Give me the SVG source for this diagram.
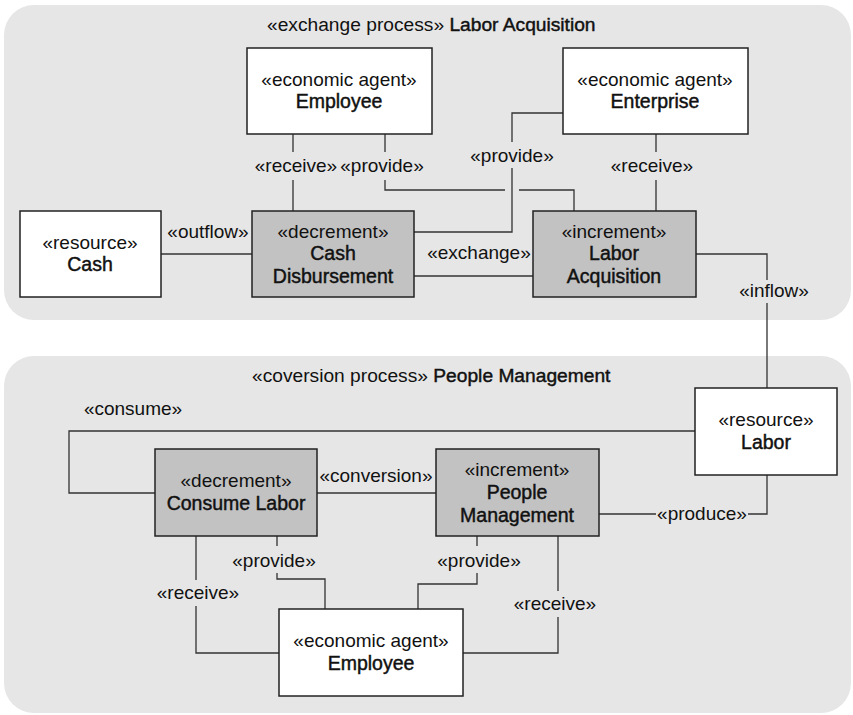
<svg xmlns="http://www.w3.org/2000/svg" width="853" height="715" viewBox="0 0 853 715">
  <style>
    .region { fill: #e6e6e6; stroke: none; }
    .node { stroke: #222; stroke-width: 1.5; }
    .agent, .resource { fill: #ffffff; }
    .event { fill: #c2c2c2; }
    .st { font-family: "Liberation Sans", Arial, sans-serif; font-size: 19px; fill: #111; text-anchor: middle; }
    .nm { font-family: "Liberation Sans", Arial, sans-serif; font-size: 19.5px; fill: #111; stroke: #111; stroke-width: 0.45; text-anchor: middle; }
    .title { font-family: "Liberation Sans", Arial, sans-serif; font-size: 19.2px; fill: #111; }
    .title tspan.b { stroke: #111; stroke-width: 0.45; }
    .lbl { font-family: "Liberation Sans", Arial, sans-serif; font-size: 19px; fill: #111; text-anchor: middle; }
    .wire { fill: none; stroke: #333; stroke-width: 1.3; }
  </style>

  <!-- process regions -->
  <g id="exchange-process">
    <rect class="region" x="4" y="5" width="847" height="315" rx="30" ry="30"/>
    <text class="title" x="267" y="31">«exchange process» <tspan class="b">Labor Acquisition</tspan></text>
  </g>
  <g id="conversion-process">
    <rect class="region" x="4" y="356" width="847" height="357" rx="30" ry="30"/>
    <text class="title" x="252" y="382">«coversion process» <tspan class="b">People Management</tspan></text>
  </g>

  <!-- connectors -->
  <g id="connectors">
    <!-- Employee receive -->
    <path class="wire" d="M293,134 V152 M293,180 V211"/>
    <text class="lbl" x="296" y="172">«receive»</text>
    <!-- Employee provide -->
    <path class="wire" d="M385,134 V152 M385,180 V190 H505 M519,190 H574 V211"/>
    <text class="lbl" x="382" y="172">«provide»</text>
    <!-- Enterprise provide -->
    <path class="wire" d="M563,113 H512 V142 M512,168 V232 H414"/>
    <text class="lbl" x="512" y="162">«provide»</text>
    <!-- Enterprise receive -->
    <path class="wire" d="M656,134 V152 M656,180 V211"/>
    <text class="lbl" x="652" y="172">«receive»</text>
    <!-- outflow -->
    <path class="wire" d="M161,254 H252"/>
    <text class="lbl" x="208" y="238">«outflow»</text>
    <!-- exchange -->
    <path class="wire" d="M414,276 H533"/>
    <text class="lbl" x="479" y="259">«exchange»</text>
    <!-- inflow -->
    <path class="wire" d="M696,254 H767 V280 M767,303 V388"/>
    <text class="lbl" x="774" y="297">«inflow»</text>

    <!-- consume -->
    <path class="wire" d="M695,431 H69 V493 H155"/>
    <text class="lbl" x="133" y="415">«consume»</text>
    <!-- conversion -->
    <path class="wire" d="M317,493 H436"/>
    <text class="lbl" x="376" y="482">«conversion»</text>
    <!-- produce -->
    <path class="wire" d="M599,514 H656 M748,514 H767 V475"/>
    <text class="lbl" x="702" y="520">«produce»</text>
    <!-- Consume Labor receive -->
    <path class="wire" d="M196,536 V580 M196,606 V653 H279"/>
    <text class="lbl" x="198" y="599">«receive»</text>
    <!-- Consume Labor provide -->
    <path class="wire" d="M277,536 V546 M277,573 V579 H325 V609"/>
    <text class="lbl" x="274" y="567">«provide»</text>
    <!-- People Management provide -->
    <path class="wire" d="M477,536 V546 M477,573 V584 H418 V609"/>
    <text class="lbl" x="479" y="567">«provide»</text>
    <!-- People Management receive -->
    <path class="wire" d="M558,536 V591 M558,617 V653 H463"/>
    <text class="lbl" x="555" y="610">«receive»</text>
  </g>

  <!-- nodes -->
  <g id="employee-top">
    <rect class="node agent" x="247" y="48" width="185" height="86"/>
    <text class="st" x="339" y="86">«economic agent»</text>
    <text class="nm" x="339" y="108">Employee</text>
  </g>
  <g id="enterprise">
    <rect class="node agent" x="563" y="48" width="185" height="86"/>
    <text class="st" x="655" y="86">«economic agent»</text>
    <text class="nm" x="655" y="108">Enterprise</text>
  </g>
  <g id="cash">
    <rect class="node resource" x="20" y="211" width="141" height="86"/>
    <text class="st" x="90" y="249">«resource»</text>
    <text class="nm" x="90" y="271">Cash</text>
  </g>
  <g id="cash-disbursement">
    <rect class="node event" x="252" y="211" width="162" height="86"/>
    <text class="st" x="333" y="238">«decrement»</text>
    <text class="nm" x="333" y="260">Cash</text>
    <text class="nm" x="333" y="283">Disbursement</text>
  </g>
  <g id="labor-acquisition">
    <rect class="node event" x="533" y="211" width="163" height="86"/>
    <text class="st" x="614" y="238">«increment»</text>
    <text class="nm" x="614" y="260">Labor</text>
    <text class="nm" x="614" y="283">Acquisition</text>
  </g>
  <g id="labor">
    <rect class="node resource" x="695" y="388" width="142" height="87"/>
    <text class="st" x="766" y="426">«resource»</text>
    <text class="nm" x="766" y="449">Labor</text>
  </g>
  <g id="consume-labor">
    <rect class="node event" x="155" y="449" width="162" height="87"/>
    <text class="st" x="236" y="487">«decrement»</text>
    <text class="nm" x="236" y="510">Consume Labor</text>
  </g>
  <g id="people-management">
    <rect class="node event" x="436" y="449" width="163" height="87"/>
    <text class="st" x="517" y="476">«increment»</text>
    <text class="nm" x="517" y="499">People</text>
    <text class="nm" x="517" y="522">Management</text>
  </g>
  <g id="employee-bottom">
    <rect class="node agent" x="279" y="609" width="184" height="87"/>
    <text class="st" x="371" y="647">«economic agent»</text>
    <text class="nm" x="371" y="670">Employee</text>
  </g>
</svg>
